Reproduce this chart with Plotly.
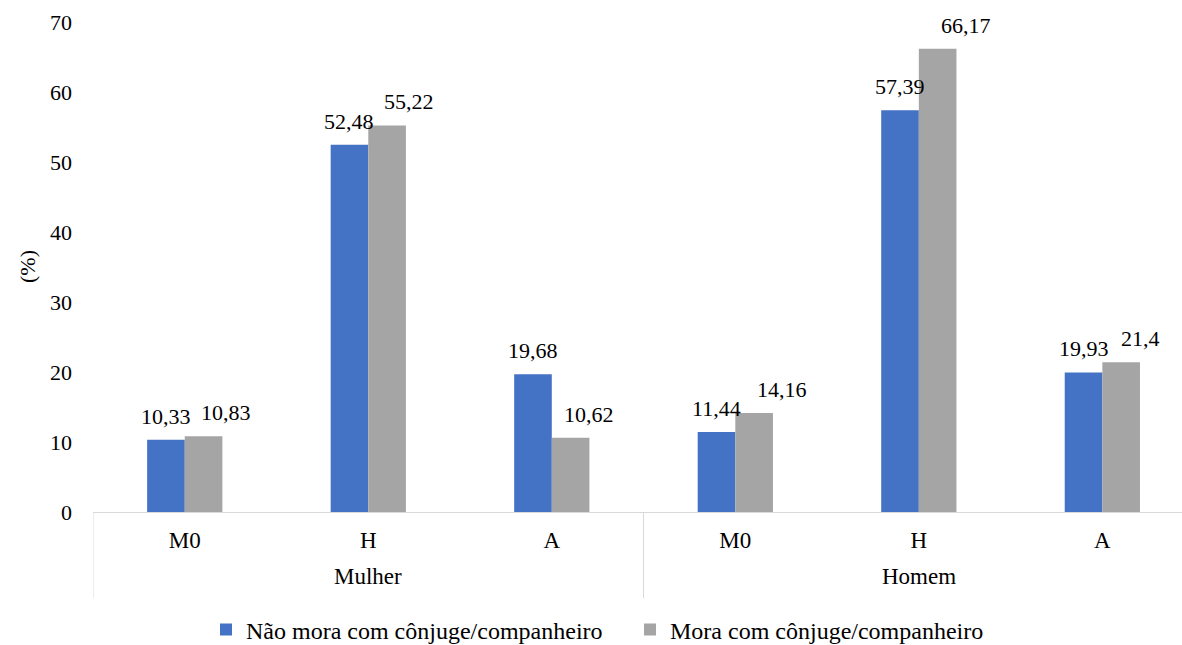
import plotly.graph_objects as go

groups = ["Mulher", "Homem"]
categories = ["M0", "H", "A", "M0", "H", "A"]
nao_mora = [10.33, 52.48, 19.68, 11.44, 57.39, 19.93]
mora = [10.83, 55.22, 10.62, 14.16, 66.17, 21.4]
series_names = ["Não mora com cônjuge/companheiro", "Mora com cônjuge/companheiro"]
colors = ["#4472C4", "#A5A5A5"]
y_title = "(%)"

# label horizontal nudges (px) to avoid overlaps, as in the reference
label_nudge = [[0, 0, 0, 0, 0, 0], [22, 22, 18, 28, 28, 19]]

def fmt(v):
    return f"{v:g}".replace(".", ",")

FONT = "Liberation Serif, Times New Roman, serif"
FS = 22
FS_X = 23
FS_LEG = 24
BARGAP = 0.59
W, H = 1182, 645
ML, MR, MT, MB = 93, 0, 22, 133
PH = H - MT - MB
xs = list(range(len(categories)))

fig = go.Figure()
for name, vals, col in zip(series_names, [nao_mora, mora], colors):
    fig.add_trace(go.Bar(x=xs, y=vals, name=name,
                         marker=dict(color=col, line=dict(width=0))))

annotations = []
half = (1 - BARGAP) / 4
for si, vals in enumerate([nao_mora, mora]):
    off = -half if si == 0 else half
    for i, v in enumerate(vals):
        annotations.append(dict(x=i + off, y=v, xref="x", yref="y", text=fmt(v),
                                showarrow=False, yanchor="bottom", xanchor="center",
                                yshift=9, xshift=label_nudge[si][i],
                                font=dict(family=FONT, size=FS, color="#000000")))

# group labels
n_per = len(categories) // len(groups)
for gi, g in enumerate(groups):
    annotations.append(dict(x=gi * n_per + (n_per - 1) / 2, y=-(576 - 512) / PH,
                            xref="x", yref="paper", text=g, showarrow=False,
                            yanchor="middle", xanchor="center",
                            font=dict(family=FONT, size=FS_X, color="#000000")))
annotations.append(dict(x=-(ML - 27) / (W - ML - MR), y=(512 - 267) / PH, xref="paper", yref="paper",
                        text=y_title, textangle=-90, showarrow=False,
                        xanchor="center", yanchor="middle",
                        font=dict(family=FONT, size=FS, color="#000000")))

shapes = []
for gi in range(len(groups)):
    xd = gi * n_per - 0.5
    shapes.append(dict(type="line", xref="x", yref="paper", x0=xd, x1=xd,
                       y0=0, y1=-(598 - 512) / PH, line=dict(color="#D9D9D9", width=1)))

fig.update_layout(
    width=W, height=H,
    margin=dict(l=ML, r=MR, t=MT, b=MB, autoexpand=False),
    paper_bgcolor="white", plot_bgcolor="white",
    font=dict(family=FONT, size=FS, color="#000000"),
    barmode="group", bargap=BARGAP, bargroupgap=0,
    showlegend=True,
    legend=dict(orientation="h", xref="container", yref="container",
                x=206 / W, xanchor="left", y=1 - 630 / H, yanchor="middle",
                entrywidth=379, entrywidthmode="pixels",
                font=dict(family=FONT, size=FS_LEG, color="#000000")),
    xaxis=dict(range=[-0.5, 5.434], tickmode="array", tickvals=xs, ticktext=categories,
               showline=True, linecolor="#D9D9D9", linewidth=1, zeroline=False,
               showgrid=False, ticks="", ticklabelstandoff=7,
               tickfont=dict(family=FONT, size=FS_X)),
    yaxis=dict(range=[0, 70], dtick=10, showgrid=False, showline=False, zeroline=False,
               ticks="", ticklabelstandoff=20, tickfont=dict(family=FONT, size=FS)),
    annotations=annotations, shapes=shapes,
)
fig.write_html("out.html")
